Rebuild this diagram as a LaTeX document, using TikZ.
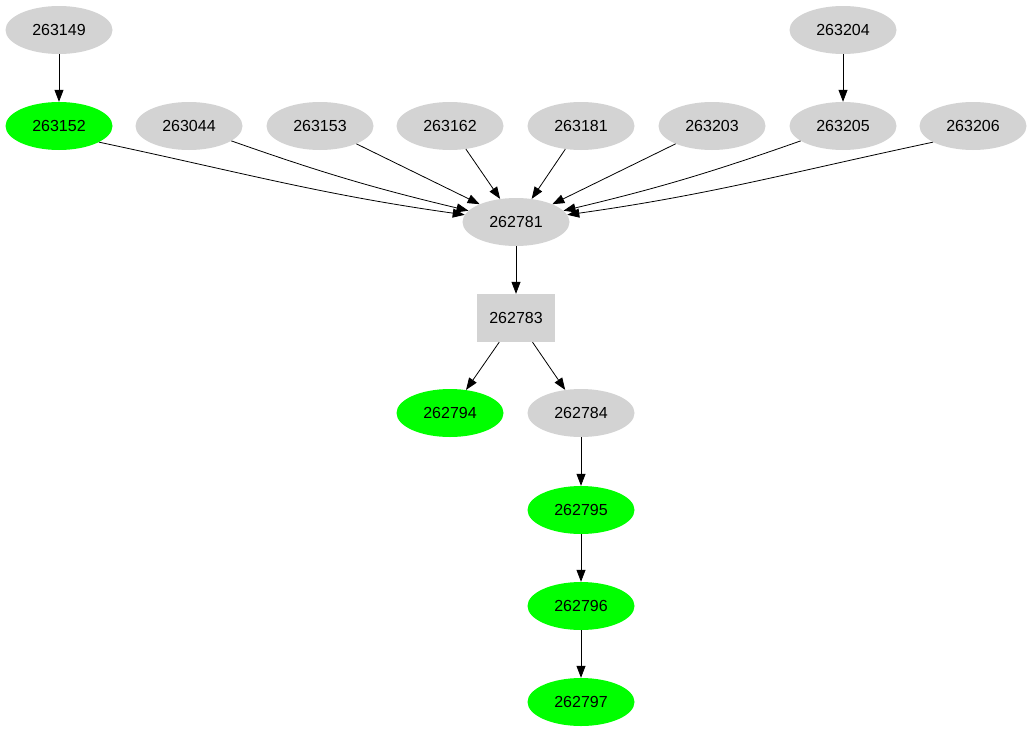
\documentclass[tikz,border=0pt]{standalone}
\usepackage{fontspec}
\setmainfont{Liberation Sans}
\usetikzlibrary{arrows.meta,positioning,shapes.geometric}
\definecolor{NodeGray}{RGB}{211,211,211}
\definecolor{NodeGreen}{RGB}{0,255,0}
\tikzset{
  job/.style={ellipse,fill=NodeGray,minimum width=107pt,minimum height=48pt,
    inner sep=0pt,font=\fontsize{16}{19}\selectfont},
  done/.style={job,fill=NodeGreen},
  gate/.style={rectangle,fill=NodeGray,minimum width=78pt,minimum height=48pt,
    inner sep=0pt,font=\fontsize{16}{19}\selectfont},
  arrow/.style={-{Triangle[length=12pt,width=9pt]},line width=0.8pt,black}
}
\begin{document}
\begin{tikzpicture}[x=1pt,y=-1pt]
  \useasboundingbox (0,0) rectangle (1032,731);
  % top row
  \node[job] (a149) at (59,30) {263149};
  \node[job] (a204) at (843,30) {263204};
  % fan-in row
  \node[done] (a152) at (59,126) {263152};
  \node[job] (a044) at (189,126) {263044};
  \node[job] (a153) at (320,126) {263153};
  \node[job] (a162) at (450,126) {263162};
  \node[job] (a181) at (581,126) {263181};
  \node[job] (a203) at (712,126) {263203};
  \node[job] (a205) at (843,126) {263205};
  \node[job] (a206) at (973,126) {263206};
  % middle chain
  \node[job] (b781) at (516,222) {262781};
  \node[gate] (b783) at (516,318) {262783};
  \node[done] (b794) at (450,413) {262794};
  \node[job] (b784) at (581,413) {262784};
  \node[done] (b795) at (581,510) {262795};
  \node[done] (b796) at (581,606) {262796};
  \node[done] (b797) at (581,702) {262797};
  % edges
  \draw[arrow] (a149) -- (a152);
  \draw[arrow] (a204) -- (a205);
  \draw[arrow] (a152.-22) to[out=-12,in=172] (b781.172);
  \draw[arrow] (a044) to[bend right=3] (b781);
  \draw[arrow] (a153) -- (b781);
  \draw[arrow] (a162) -- (b781);
  \draw[arrow] (a181) -- (b781);
  \draw[arrow] (a203) -- (b781);
  \draw[arrow] (a205) to[bend left=3] (b781);
  \draw[arrow] (a206.-158) to[out=-168,in=8] (b781.8);
  \draw[arrow] (b781) -- (b783);
  \draw[arrow] (b783) -- (b794);
  \draw[arrow] (b783) -- (b784);
  \draw[arrow] (b784) -- (b795);
  \draw[arrow] (b795) -- (b796);
  \draw[arrow] (b796) -- (b797);
\end{tikzpicture}
\end{document}
